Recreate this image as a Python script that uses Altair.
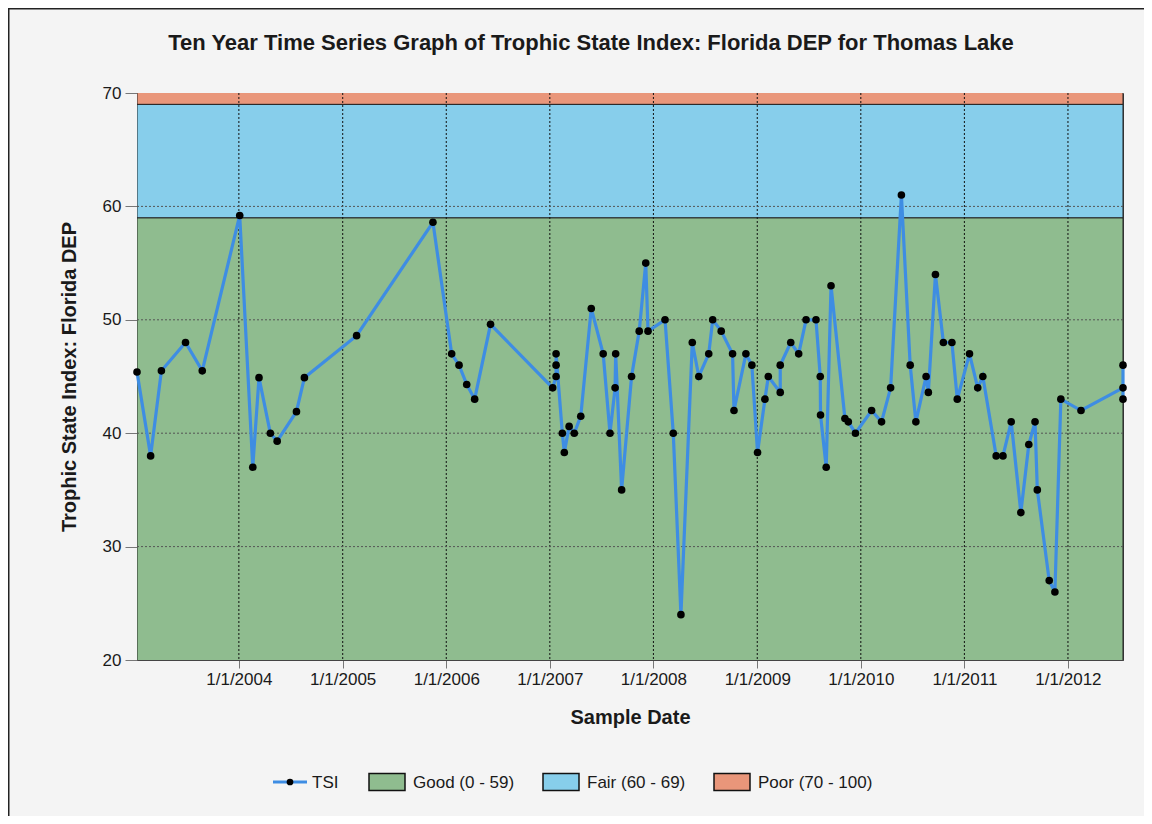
import altair as alt
import pandas as pd

# ---------------- data ----------------
TITLE = "Ten Year Time Series Graph of Trophic State Index: Florida DEP for Thomas Lake"
X_TITLE = "Sample Date"
Y_TITLE = "Trophic State Index: Florida DEP"
SERIES_LABEL = "TSI"

DATES = [
    "2003-01-07", "2003-02-24", "2003-04-03", "2003-06-27", "2003-08-25",
    "2004-01-04", "2004-02-19", "2004-03-12", "2004-04-21", "2004-05-15",
    "2004-07-22", "2004-08-19", "2005-02-19", "2005-11-15", "2006-01-20",
    "2006-02-15", "2006-03-14", "2006-04-11", "2006-06-06", "2007-01-11",
    "2007-01-23", "2007-01-23", "2007-01-23", "2007-02-14", "2007-02-21",
    "2007-03-10", "2007-03-28", "2007-04-20", "2007-05-27", "2007-07-08",
    "2007-08-01", "2007-08-19", "2007-08-21", "2007-09-11", "2007-10-16",
    "2007-11-12", "2007-12-05", "2007-12-13", "2008-02-11", "2008-03-11",
    "2008-04-07", "2008-05-17", "2008-06-09", "2008-07-14", "2008-07-28",
    "2008-08-27", "2008-10-06", "2008-10-11", "2008-11-22", "2008-12-13",
    "2009-01-02", "2009-01-28", "2009-02-09", "2009-03-23", "2009-03-23",
    "2009-04-29", "2009-05-27", "2009-06-22", "2009-07-27", "2009-08-11",
    "2009-08-12", "2009-09-01", "2009-09-18", "2009-11-06", "2009-11-18",
    "2009-12-13", "2010-02-08", "2010-03-15", "2010-04-16", "2010-05-24",
    "2010-06-24", "2010-07-14", "2010-08-19", "2010-08-27", "2010-09-21",
    "2010-10-19", "2010-11-18", "2010-12-07", "2011-01-19", "2011-02-17",
    "2011-03-07", "2011-04-23", "2011-05-17", "2011-06-15", "2011-07-19",
    "2011-08-16", "2011-09-07", "2011-09-15", "2011-10-27", "2011-11-16",
    "2011-12-07", "2012-02-16", "2012-07-13", "2012-07-13", "2012-07-13",
]
TSI = [
    45.4, 38.0, 45.5, 48.0, 45.5,
    59.2, 37.0, 44.9, 40.0, 39.3,
    41.9, 44.9, 48.6, 58.6, 47.0,
    46.0, 44.3, 43.0, 49.6, 44.0,
    45.0, 46.0, 47.0, 40.0, 38.3,
    40.6, 40.0, 41.5, 51.0, 47.0,
    40.0, 44.0, 47.0, 35.0, 45.0,
    49.0, 55.0, 49.0, 50.0, 40.0,
    24.0, 48.0, 45.0, 47.0, 50.0,
    49.0, 47.0, 42.0, 47.0, 46.0,
    38.3, 43.0, 45.0, 43.6, 46.0,
    48.0, 47.0, 50.0, 50.0, 45.0,
    41.6, 37.0, 53.0, 41.3, 41.0,
    40.0, 42.0, 41.0, 44.0, 61.0,
    46.0, 41.0, 45.0, 43.6, 54.0,
    48.0, 48.0, 43.0, 47.0, 44.0,
    45.0, 38.0, 38.0, 41.0, 33.0,
    39.0, 41.0, 35.0, 27.0, 26.0,
    43.0, 42.0, 44.0, 46.0, 43.0,
]

TICK_YEARS = [2004, 2005, 2006, 2007, 2008, 2009, 2010, 2011, 2012]
Y_TICKS = [20, 30, 40, 50, 60, 70]
Y_GRID = [30, 40, 50, 60]
Y_DOMAIN = [20, 70]

BAND_LABELS = ["Good (0 - 59)", "Fair (60 - 69)", "Poor (70 - 100)"]
BAND_LO = [0, 59, 69]
BAND_HI = [59, 69, 100]
BAND_COLORS = ["#8FBC8F", "#87CEEB", "#E9967A"]

# ---------------- layout / style ----------------
W, H = 986, 567
PAD = {"left": 129, "top": 85, "right": 21, "bottom": 156}
FONT = "Liberation Sans"
LINE_COLOR = "#3E8DE3"
TEXT_COLOR = "#1a1a1a"

series = pd.DataFrame({"date": DATES, "tsi": TSI, "idx": list(range(len(TSI)))})
bands = pd.DataFrame({"label": BAND_LABELS, "lo": BAND_LO, "hi": BAND_HI, "color": BAND_COLORS})
vgrid = pd.DataFrame({"date": [f"{y}-01-01" for y in TICK_YEARS]})
hgrid = pd.DataFrame({"tsi": Y_GRID})

X_AXIS = alt.Axis(
    values=[alt.DateTime(year=y, month=1, date=1) for y in TICK_YEARS],
    format="%-m/%-d/%Y",
    grid=False,
    labelFont=FONT, labelFontSize=17, labelColor=TEXT_COLOR, labelPadding=3,
    tickSize=8, tickColor="#777", domainColor="#444",
    title=X_TITLE, titleFont=FONT, titleFontSize=20, titleFontWeight="bold",
    titleColor=TEXT_COLOR, titleY=63, titleBaseline="alphabetic",
)
Y_AXIS = alt.Axis(
    values=Y_TICKS, grid=False,
    labelFont=FONT, labelFontSize=17, labelColor=TEXT_COLOR, labelPadding=4,
    tickSize=12, tickColor="#777", domainColor="#444",
    title=Y_TITLE, titleFont=FONT, titleFontSize=20, titleFontWeight="bold",
    titleColor=TEXT_COLOR, titleX=-62, titleY=H / 2, titleAngle=270,
    titleBaseline="alphabetic", titleAlign="center",
)
X_SCALE = alt.Scale(nice=False)
Y_SCALE = alt.Scale(domain=Y_DOMAIN, nice=False, zero=False)


def xe(field="date:T"):
    return alt.X(field, scale=X_SCALE, axis=X_AXIS, title=X_TITLE)


def ye(field="tsi:Q"):
    return alt.Y(field, scale=Y_SCALE, axis=Y_AXIS, title=Y_TITLE)


band_layer = alt.Chart(bands).mark_rect(clip=True, stroke="#222", strokeWidth=1).encode(
    x=alt.value(0), x2=alt.value("width"),
    y=ye("lo:Q"), y2="hi:Q",
    fill=alt.Fill("color:N", scale=None, legend=None),
)

vgrid_layer = alt.Chart(vgrid).mark_rule(color="#111", strokeDash=[2, 2], strokeWidth=1).encode(
    x=xe()
)
hgrid_layer = alt.Chart(hgrid).mark_rule(color="#555", strokeDash=[2, 2], strokeWidth=1).encode(
    y=ye()
)

line_layer = alt.Chart(series).mark_line(color=LINE_COLOR, strokeWidth=3.2).encode(
    x=xe(), y=ye(), order="idx:Q"
)
point_layer = alt.Chart(series).mark_circle(color="black", size=58, opacity=1).encode(
    x=xe(), y=ye()
)

title_layer = alt.Chart(pd.DataFrame({"t": [TITLE]})).mark_text(
    font=FONT, fontSize=22, fontWeight="bold", color=TEXT_COLOR,
    align="center", baseline="alphabetic",
).encode(text="t:N", x=alt.value(454), y=alt.value(-43))

# ---------------- manual legend ----------------
LEG_Y = 689
SW_H = 17
layers_leg = []
leg_tsi = pd.DataFrame({"label": [SERIES_LABEL]})
layers_leg.append(
    alt.Chart(leg_tsi).mark_rule(color=LINE_COLOR, strokeWidth=3.2).encode(
        x=alt.value(136), x2=alt.value(170), y=alt.value(LEG_Y)
    )
)
layers_leg.append(
    alt.Chart(leg_tsi).mark_circle(color="black", size=45, opacity=1).encode(
        x=alt.value(153), y=alt.value(LEG_Y)
    )
)
layers_leg.append(
    alt.Chart(leg_tsi).mark_text(font=FONT, fontSize=17, color=TEXT_COLOR, align="left", baseline="middle").encode(
        text="label:N", x=alt.value(175), y=alt.value(LEG_Y + 1)
    )
)
SWATCH_X = [232, 406, 577]
for i in range(len(BAND_LABELS)):
    row = bands.iloc[[i]]
    x0 = SWATCH_X[i]
    layers_leg.append(
        alt.Chart(row).mark_rect(fill=BAND_COLORS[i], stroke="#111", strokeWidth=1.5).encode(
            x=alt.value(x0), x2=alt.value(x0 + 36),
            y=alt.value(LEG_Y - SW_H / 2), y2=alt.value(LEG_Y + SW_H / 2),
        )
    )
    layers_leg.append(
        alt.Chart(row).mark_text(font=FONT, fontSize=17, color=TEXT_COLOR, align="left", baseline="middle").encode(
            text="label:N", x=alt.value(x0 + 44), y=alt.value(LEG_Y + 1)
        )
    )

# image frame (left and top edges)
frame_df = pd.DataFrame({"a": [0]})
frame_left = alt.Chart(frame_df).mark_rule(color="#222", strokeWidth=1.5).encode(
    x=alt.value(-PAD["left"] + 0.75), y=alt.value(-PAD["top"]), y2=alt.value(H + PAD["bottom"])
)
frame_top = alt.Chart(frame_df).mark_rule(color="#222", strokeWidth=1.5).encode(
    x=alt.value(-PAD["left"]), x2=alt.value(W + PAD["right"]), y=alt.value(-PAD["top"] + 0.75)
)

chart = alt.layer(
    band_layer, vgrid_layer, hgrid_layer, line_layer, point_layer,
    title_layer, *layers_leg, frame_left, frame_top,
).properties(
    width=W, height=H,
    autosize=alt.AutoSizeParams(type="none"),
    padding=PAD,
    background="#f4f4f4",
).configure_view(stroke="#333", strokeWidth=1)

chart.save("out.html", embed_options={"renderer": "svg", "actions": False})
